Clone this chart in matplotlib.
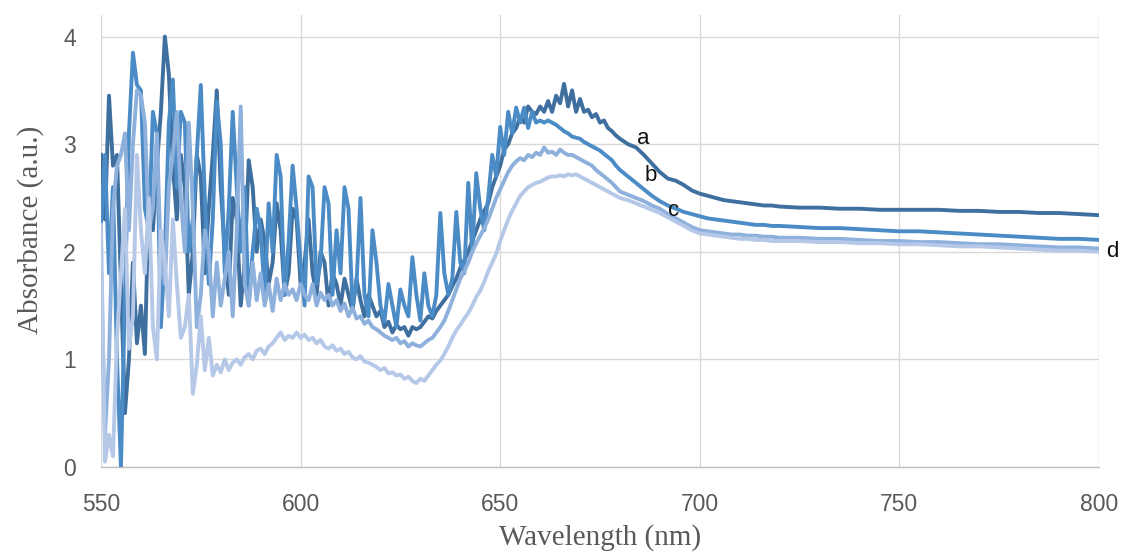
import matplotlib
matplotlib.use("Agg")
import matplotlib.pyplot as plt

# ---------------- data ----------------
wl_fine = list(range(550, 680))          # 1 nm steps
wl_mid = list(range(680, 720, 2))        # 2 nm steps
wl_tail = list(range(720, 801, 5))       # 5 nm steps
wavelength = wl_fine + wl_mid + wl_tail

series_a = [
    2.9, 2.3, 3.45, 2.8, 2.9, 1.7, 0.5, 1.0, 1.9, 1.15,
    1.5, 1.05, 2.6, 2.2, 2.8, 3.3, 4.0, 3.65, 2.8, 2.3,
    2.9, 2.6, 1.6, 2.0, 2.9, 2.7, 1.8, 2.4, 2.9, 3.5,
    2.6, 2.0, 1.6, 2.5, 2.3, 1.5, 1.9, 2.85, 2.6, 2.0,
    2.3, 2.1, 1.7, 1.9, 2.45, 2.2, 1.6, 1.8, 2.4, 2.3,
    1.7, 1.9, 2.3, 1.8, 1.6, 2.0, 1.9, 1.5, 1.8, 1.7,
    1.5, 1.75, 1.6, 1.45, 1.75, 1.55, 1.4, 1.6, 1.5, 1.4,
    1.45, 1.3, 1.35, 1.25, 1.32, 1.28, 1.3, 1.22, 1.3, 1.28,
    1.3, 1.35, 1.4, 1.38, 1.45, 1.5, 1.55, 1.6, 1.68, 1.75,
    1.85, 1.92, 2.0, 2.1, 2.2, 2.3, 2.38, 2.45, 2.6, 2.7,
    2.8, 2.95, 3.0, 3.1, 3.15, 3.25, 3.2, 3.35, 3.3, 3.28,
    3.35, 3.3, 3.4, 3.3, 3.45, 3.38, 3.56, 3.35, 3.5, 3.3,
    3.42, 3.3, 3.32, 3.25, 3.28, 3.2, 3.22, 3.15, 3.12, 3.08,
    3.05, 3.0, 2.97, 2.9, 2.82, 2.74, 2.68, 2.66, 2.62, 2.57,
    2.54, 2.52, 2.5, 2.48, 2.47, 2.46, 2.45, 2.44, 2.43, 2.43,
    2.42, 2.41, 2.41, 2.4, 2.4, 2.39, 2.39, 2.39, 2.39, 2.38,
    2.38, 2.37, 2.37, 2.36, 2.36, 2.35, 2.34,
]

series_b = [
    2.25, 2.9, 1.8, 2.6, 1.0, 0.0, 1.6, 3.1, 3.85, 3.55,
    3.5, 2.4, 2.2, 3.3, 3.1, 1.3, 2.0, 3.2, 3.6, 2.6,
    3.3, 3.2, 2.0, 2.3, 2.9, 3.55, 2.5, 1.7, 2.3, 3.4,
    3.0, 1.8, 2.4, 3.3, 2.6, 2.0, 2.6, 1.5, 2.0, 2.4,
    2.2, 1.6, 2.45, 2.0, 2.9, 2.7, 1.6, 2.1, 2.8, 2.4,
    1.9, 1.5, 2.7, 2.6, 1.7, 1.9, 2.6, 2.45, 1.6, 2.2,
    1.8, 2.6, 2.4, 1.5, 1.7, 2.5, 1.6, 1.4, 2.2, 1.9,
    1.5, 1.35, 1.7, 1.5, 1.3, 1.65, 1.5, 1.4, 1.95, 1.6,
    1.36, 1.8, 1.5, 1.4, 1.6, 2.36, 1.8, 1.6, 1.75, 2.37,
    1.9, 1.8, 2.64, 2.0, 2.73, 2.4, 2.2, 2.5, 2.9, 2.7,
    3.16, 2.9, 3.3, 3.1, 3.34, 3.2, 3.34, 3.15, 3.3, 3.2,
    3.22, 3.2, 3.22, 3.2, 3.18, 3.15, 3.12, 3.1, 3.07, 3.06,
    3.05, 3.02, 3.0, 2.98, 2.96, 2.94, 2.91, 2.88, 2.85, 2.8,
    2.76, 2.7, 2.64, 2.58, 2.52, 2.47, 2.43, 2.4, 2.37, 2.35,
    2.33, 2.31, 2.3, 2.29, 2.28, 2.27, 2.26, 2.25, 2.25, 2.24,
    2.24, 2.23, 2.22, 2.22, 2.21, 2.2, 2.19, 2.19, 2.18, 2.17,
    2.16, 2.15, 2.14, 2.13, 2.12, 2.12, 2.11,
]

series_c = [
    1.9, 0.3, 1.0, 2.4, 2.8, 2.9, 3.1, 2.2, 3.0, 3.5,
    3.45, 3.2, 2.2, 2.4, 3.1, 1.9, 1.7, 2.6, 2.9, 3.3,
    2.5, 2.0, 3.2, 2.4, 1.3, 1.6, 2.2, 2.0, 1.4, 1.9,
    1.5, 1.75, 2.0, 1.4, 2.2, 3.35, 1.7, 1.5, 1.9, 1.55,
    1.8, 1.5, 1.7, 1.45, 1.75, 1.55, 1.7, 1.6, 1.65, 1.55,
    1.7, 1.6, 1.55, 1.7, 1.5, 1.62, 1.55, 1.6, 1.5, 1.55,
    1.45, 1.52, 1.4, 1.48, 1.38, 1.4, 1.33, 1.36, 1.3, 1.28,
    1.25, 1.22, 1.2, 1.18, 1.2, 1.15, 1.17, 1.12, 1.15, 1.13,
    1.12, 1.15, 1.18, 1.2, 1.25, 1.3, 1.36, 1.45, 1.55, 1.65,
    1.75, 1.82, 1.9, 2.0, 2.08, 2.15, 2.22, 2.3, 2.4, 2.5,
    2.58, 2.66, 2.74, 2.8, 2.84, 2.87, 2.85, 2.9, 2.88, 2.92,
    2.9, 2.97, 2.92, 2.93, 2.9, 2.95, 2.92, 2.9, 2.9, 2.88,
    2.86, 2.84, 2.82, 2.8, 2.76, 2.73, 2.7, 2.67, 2.64, 2.6,
    2.56, 2.53, 2.5, 2.47, 2.43, 2.4, 2.35, 2.31, 2.27, 2.23,
    2.2, 2.19, 2.18, 2.17, 2.16, 2.16, 2.15, 2.15, 2.14, 2.14,
    2.13, 2.13, 2.12, 2.12, 2.11, 2.1, 2.1, 2.09, 2.09, 2.08,
    2.07, 2.07, 2.06, 2.05, 2.04, 2.04, 2.03,
]

series_d = [
    2.25, 0.05, 0.3, 0.1, 1.2, 1.8, 2.4, 1.1, 1.4, 2.9,
    2.2, 1.8, 2.5, 1.3, 1.0, 2.2, 1.9, 1.4, 2.3, 1.7,
    1.2, 1.3, 1.6, 0.68, 0.95, 1.4, 0.9, 1.2, 0.85, 0.95,
    0.88, 1.0, 0.9, 0.97, 1.0, 0.95, 1.02, 1.05, 1.0, 1.08,
    1.1, 1.05, 1.12, 1.15, 1.2, 1.25, 1.18, 1.22, 1.2, 1.25,
    1.2, 1.23, 1.18, 1.2, 1.15, 1.18, 1.12, 1.1, 1.13, 1.08,
    1.1, 1.05, 1.07, 1.02, 1.0, 1.03, 0.98, 0.97, 0.95, 0.93,
    0.9, 0.92, 0.87, 0.88, 0.85, 0.86, 0.82, 0.84, 0.8, 0.78,
    0.82, 0.8, 0.85, 0.9, 0.95, 0.99, 1.05, 1.12, 1.2, 1.27,
    1.32, 1.38, 1.43, 1.5, 1.58, 1.64, 1.72, 1.82, 1.9, 1.98,
    2.1, 2.2, 2.3, 2.38, 2.45, 2.52, 2.56, 2.6, 2.62, 2.64,
    2.65, 2.67, 2.69, 2.7, 2.7, 2.71, 2.7, 2.72, 2.71, 2.72,
    2.7, 2.68, 2.66, 2.64, 2.62, 2.6, 2.58, 2.56, 2.54, 2.52,
    2.5, 2.48, 2.45, 2.42, 2.39, 2.36, 2.32, 2.28, 2.24, 2.2,
    2.17, 2.16, 2.15, 2.14, 2.13, 2.12, 2.12, 2.11, 2.11, 2.1,
    2.1, 2.1, 2.09, 2.09, 2.08, 2.08, 2.07, 2.07, 2.06, 2.05,
    2.05, 2.04, 2.03, 2.02, 2.01, 2.01, 2.0,
]

series_names = ["a", "b", "c", "d"]
x_ticks = [550, 600, 650, 700, 750, 800]
y_ticks = [0, 1, 2, 3, 4]
x_label = "Wavelength (nm)"
y_label = "Absorbance (a.u.)"

# ---------------- style ----------------
colors = ["#3F6F9F", "#4B8BC6", "#8EB0DC", "#B5C8E8"]
label_pos = [(685.8, 3.05), (687.6, 2.71), (693.5, 2.38), (803.3, 2.0)]
grid_col = "#D9D9D9"
text_gray = "#595959"

fig = plt.figure(figsize=(11.21, 5.55), dpi=100)
ax = fig.add_axes([101 / 1121, 88 / 555, 998 / 1121, 452 / 555])

all_series = [series_a, series_b, series_c, series_d]
for ys, col in zip(all_series, colors):
    ax.plot(wavelength, ys, color=col, lw=2.8, solid_joinstyle="round", zorder=3)

for name, (px, py) in zip(series_names, label_pos):
    ax.text(px, py, name, fontsize=16, family="Liberation Sans", color="#111111",
            ha="center", va="center", clip_on=False, zorder=4)

ax.set_xlim(550, 800)
ax.set_ylim(0, 4.2)
ax.set_xticks(x_ticks)
ax.set_yticks(y_ticks)
ax.grid(True, color=grid_col, lw=1.0, zorder=0)
ax.set_axisbelow(True)
for side in ["top", "right", "left"]:
    ax.spines[side].set_visible(False)
ax.spines["bottom"].set_color("#BFBFBF")
ax.spines["bottom"].set_linewidth(1.0)
ax.tick_params(axis="both", length=0, labelsize=16.5, labelcolor=text_gray)
ax.tick_params(axis="x", pad=19)
ax.tick_params(axis="y", pad=18)
for lab in ax.get_xticklabels() + ax.get_yticklabels():
    lab.set_family("Liberation Sans")

ax.set_xlabel(x_label, family="Liberation Serif", fontsize=21, color=text_gray)
ax.set_ylabel(y_label, family="Liberation Serif", fontsize=21, color=text_gray)
ax.xaxis.set_label_coords(0.5, -0.157)
ax.xaxis.label.set_va("center")
ax.yaxis.set_label_coords(-0.071, 0.524)
ax.yaxis.label.set_va("center")
ax.yaxis.label.set_ha("center")

fig.savefig("out.png", dpi=100)
